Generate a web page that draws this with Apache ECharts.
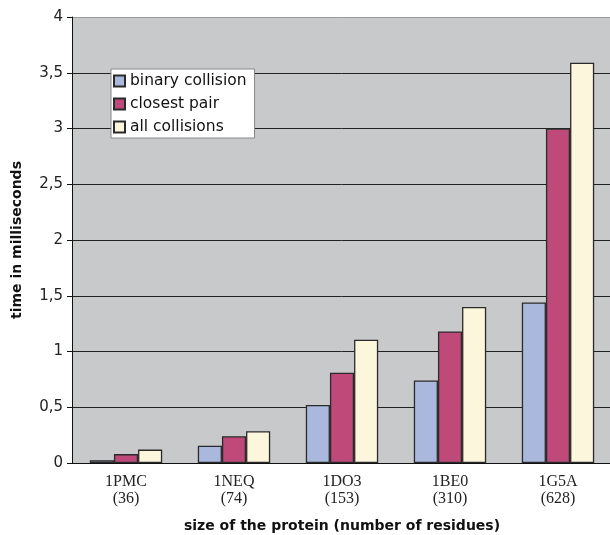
<!DOCTYPE html>
<html>
<head>
<meta charset="utf-8">
<script src="https://cdn.jsdelivr.net/npm/echarts@6/dist/echarts.min.js"></script>
<style>
  html, body { margin: 0; padding: 0; background: #fff; }
  #chart { width: 610px; height: 535px; }
</style>
</head>
<body>
<div id="chart"></div>
<script>
const proteins = ['1PMC\n(36)', '1NEQ\n(74)', '1DO3\n(153)', '1BE0\n(310)', '1G5A\n(628)']
const binaryCollision = [0.025, 0.155, 0.52, 0.74, 1.44]
const closestPair = [0.08, 0.24, 0.81, 1.18, 3.0]
const allCollisions = [0.12, 0.285, 1.105, 1.40, 3.59]

const chart = echarts.init(document.getElementById('chart'))

const barStyle = (color) => ({ color: color, borderColor: '#2a2a2a', borderWidth: 1.3 })

const option = {
  animation: false,
  textStyle: { fontFamily: 'DejaVu Sans' },
  grid: {
    left: 72, top: 17, width: 540, height: 446,
    outerBoundsMode: 'none',
    containLabel: false,
    show: true, backgroundColor: '#c8c9cb', borderWidth: 0
  },
  legend: {
    orient: 'vertical',
    left: 111, top: 69,
    padding: [4, 8, 3, 2],
    backgroundColor: '#fff',
    borderColor: '#888',
    borderWidth: 1,
    itemWidth: 11, itemHeight: 11, itemGap: 7,
    icon: 'rect',
    textStyle: { fontSize: 15.5, color: '#111', padding: [0, 0, 0, 0] },
    data: ['binary collision', 'closest pair', 'all collisions']
  },
  xAxis: {
    type: 'category',
    data: proteins,
    name: 'size of the protein (number of residues)',
    nameLocation: 'middle',
    nameGap: 56,
    nameTextStyle: { fontSize: 14, fontWeight: 'bold', color: '#111' },
    axisLine: { lineStyle: { color: '#111' } },
    axisTick: { length: 6, lineStyle: { color: '#111' } },
    axisLabel: {
      fontFamily: 'Liberation Serif', fontSize: 16, color: '#222',
      lineHeight: 17, margin: 10
    }
  },
  yAxis: {
    type: 'value',
    min: 0, max: 4, interval: 0.5,
    name: 'time in milliseconds',
    nameLocation: 'middle',
    nameGap: 48,
    nameTextStyle: { fontSize: 14, fontWeight: 'bold', color: '#111' },
    axisLine: { show: true, lineStyle: { color: '#111' } },
    axisTick: { show: true, length: 5, lineStyle: { color: '#111' } },
    axisLabel: {
      fontSize: 15, color: '#222', margin: 9,
      formatter: v => String(v).replace('.', ',')
    },
    splitLine: {
      lineStyle: {
        color: ['#222', '#222', '#222', '#222', '#222', '#222', '#222', '#222', '#999'],
        width: 1
      }
    }
  },
  series: [
    {
      name: 'binary collision', type: 'bar', data: binaryCollision,
      barGap: '0%', barCategoryGap: '33%',
      itemStyle: barStyle('#a9b8dc')
    },
    {
      name: 'closest pair', type: 'bar', data: closestPair,
      barGap: '0%', barCategoryGap: '33%',
      itemStyle: barStyle('#bf4a79')
    },
    {
      name: 'all collisions', type: 'bar', data: allCollisions,
      barGap: '0%', barCategoryGap: '33%',
      itemStyle: barStyle('#fcf6dc')
    }
  ]
}

chart.setOption(option)
</script>
</body>
</html>
